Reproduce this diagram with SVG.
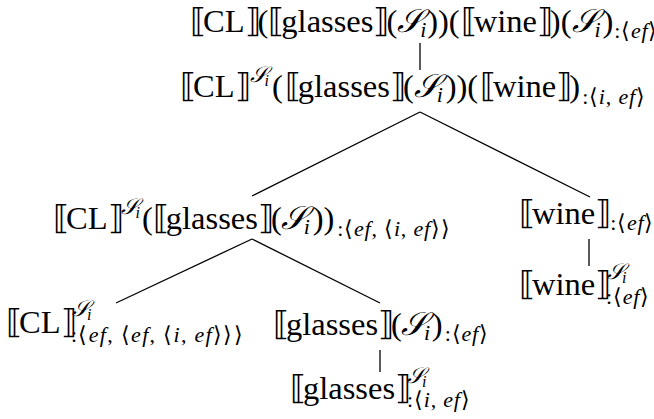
<svg xmlns="http://www.w3.org/2000/svg" width="654" height="419" viewBox="0 0 654 419">
<style>
.lbl{font-family:"Liberation Serif",serif;font-size:32.5px;fill:#000}
.ital{font-style:italic}
.small{font-size:22px;letter-spacing:0.8px}
.tiny{font-size:16px}
.brk{letter-spacing:-3px}
.scr{letter-spacing:-2px}
.wide{letter-spacing:1.3px}
.conn line{stroke:#000;stroke-width:1.3}
</style>
<rect width="654" height="419" fill="#fff"/>
<g class="conn" id="connectors">
<line x1="420" y1="43" x2="420" y2="70"/>
<line x1="420" y1="112" x2="252" y2="196"/>
<line x1="420" y1="112" x2="590" y2="197"/>
<line x1="252" y1="239" x2="116" y2="303"/>
<line x1="252" y1="239" x2="380" y2="303"/>
<line x1="589" y1="239" x2="589" y2="266"/>
<line x1="380" y1="350" x2="380" y2="372"/>
</g>
<g id="n1"><text class="lbl" x="190" y="32"><tspan class="brk">⟦</tspan>CL<tspan class="brk">⟧</tspan>(<tspan class="brk">⟦</tspan>glasses<tspan class="brk">⟧</tspan>(<tspan class="ital scr">𝒮</tspan><tspan class="ital small" dy="5">i</tspan><tspan dy="-5">))(</tspan><tspan class="brk" dx="1">⟦</tspan>wine<tspan class="brk">⟧</tspan>)(<tspan class="ital scr">𝒮</tspan><tspan class="ital small" dy="5">i</tspan><tspan dy="-5" dx="1">)</tspan><tspan class="small" dy="6" dx="1">:⟨<tspan class="ital">ef</tspan>⟩</tspan></text></g>
<g id="n2"><text class="lbl" x="180" y="97"><tspan class="brk">⟦</tspan>CL<tspan class="brk">⟧</tspan><tspan class="ital small scr" dy="-15" dx="2">𝒮</tspan><tspan class="ital tiny" dy="4">i</tspan><tspan dy="11" dx="3">(</tspan><tspan class="brk" dx="2">⟦</tspan>glasses<tspan class="brk">⟧</tspan>(<tspan class="ital scr">𝒮</tspan><tspan class="ital small" dy="5">i</tspan><tspan dy="-5" dx="2">))(</tspan><tspan class="brk" dx="2">⟦</tspan>wine<tspan class="brk">⟧</tspan>)<tspan class="small" dy="7" dx="2">:⟨<tspan class="ital">i</tspan>, <tspan class="ital">ef</tspan>⟩</tspan></text></g>
<g id="n3"><text class="lbl" x="53" y="229"><tspan class="brk">⟦</tspan>CL<tspan class="brk">⟧</tspan><tspan class="ital small scr" dy="-15">𝒮</tspan><tspan class="ital tiny" dy="4">i</tspan><tspan dy="11" dx="2">(</tspan><tspan class="brk">⟦</tspan>glasses<tspan class="brk">⟧</tspan>(<tspan class="ital scr" dx="-1">𝒮</tspan><tspan class="ital small" dy="5">i</tspan><tspan dy="-5" dx="2">))</tspan><tspan class="small" dy="7" dx="3">:⟨<tspan class="ital">ef</tspan>, ⟨<tspan class="ital">i</tspan>, <tspan class="ital">ef</tspan>⟩⟩</tspan></text></g>
<g id="n4"><text class="lbl" x="519" y="224"><tspan class="brk">⟦</tspan>wine<tspan class="brk">⟧</tspan><tspan class="small" dy="6" dx="2">:⟨<tspan class="ital">ef</tspan>⟩</tspan></text></g>
<g id="n5"><text class="lbl" x="519" y="295"><tspan class="brk">⟦</tspan>wine<tspan class="brk">⟧</tspan></text><text class="lbl ital small scr" x="607" y="279">𝒮<tspan class="tiny" dy="4">i</tspan></text><text class="lbl small" x="606" y="304">:⟨<tspan class="ital">ef</tspan>⟩</text></g>
<g id="n6"><text class="lbl" x="6" y="333"><tspan class="brk">⟦</tspan>CL<tspan class="brk">⟧</tspan></text><text class="lbl ital small scr" x="72" y="316">𝒮<tspan class="tiny" dy="4">i</tspan></text><text class="lbl small wide" x="71" y="342">:⟨<tspan class="ital">ef</tspan>, ⟨<tspan class="ital">ef</tspan>, ⟨<tspan class="ital">i</tspan>, <tspan class="ital">ef</tspan>⟩⟩⟩</text></g>
<g id="n7"><text class="lbl" x="273" y="335"><tspan class="brk">⟦</tspan>glasses<tspan class="brk">⟧</tspan>(<tspan class="ital scr" dx="-1">𝒮</tspan><tspan class="ital small" dy="5">i</tspan><tspan dy="-5" dx="1">)</tspan><tspan class="small" dy="6" dx="2">:⟨<tspan class="ital">ef</tspan>⟩</tspan></text></g>
<g id="n8"><text class="lbl" x="290" y="399"><tspan class="brk">⟦</tspan>glasses<tspan class="brk">⟧</tspan></text><text class="lbl ital small scr" x="407" y="383">𝒮<tspan class="tiny" dy="4">i</tspan></text><text class="lbl small" x="407" y="407">:⟨<tspan class="ital">i</tspan>, <tspan class="ital">ef</tspan>⟩</text></g>
</svg>
